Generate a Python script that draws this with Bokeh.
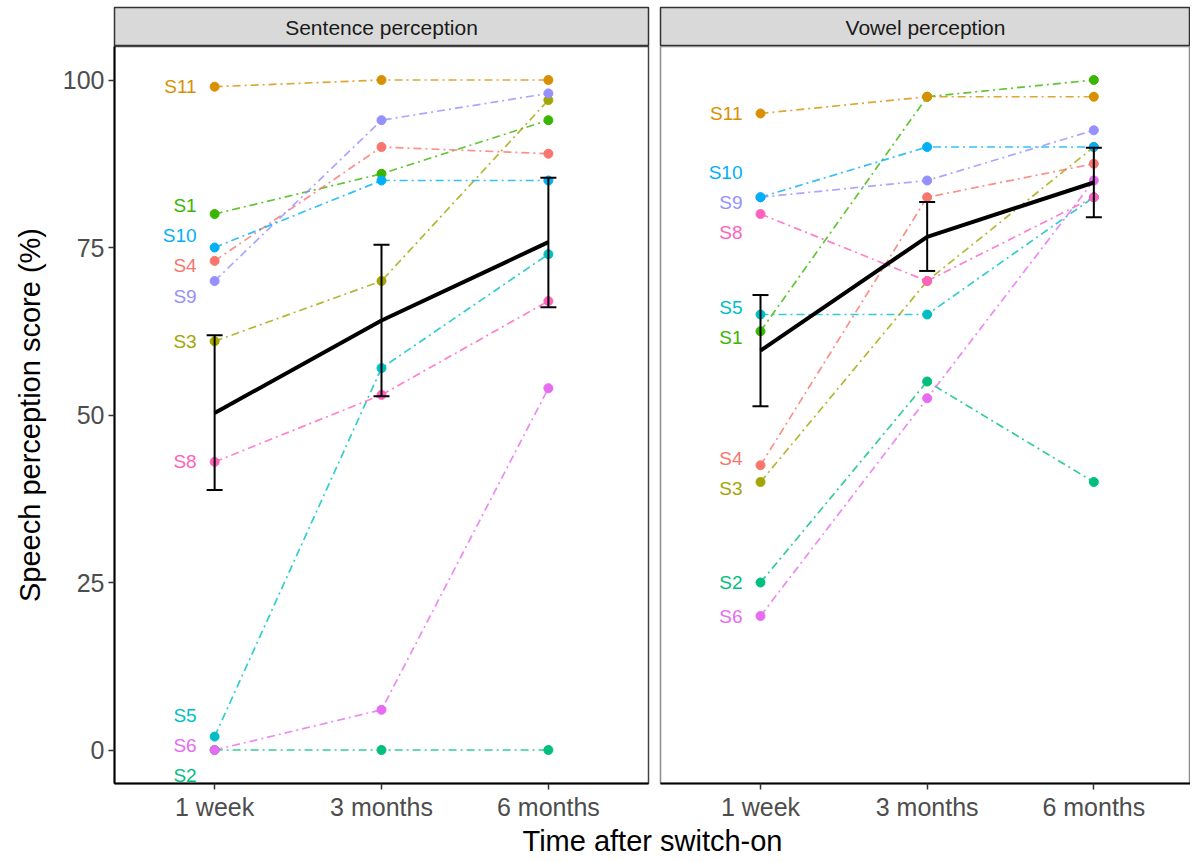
from bokeh.plotting import figure
from bokeh.layouts import column, row
from bokeh.models import Range1d, FixedTicker
from bokeh.core.properties import value
from bokeh.embed import file_html
from bokeh.resources import INLINE

FONT = "Liberation Sans"

# ---------------- data ----------------
subjects = ["S1", "S2", "S3", "S4", "S5", "S6", "S8", "S9", "S10", "S11"]
subject_colors = ["#39B600", "#00BF7D", "#A3A500", "#F8766D", "#00BFC4",
                  "#E76BF3", "#FF62BC", "#9590FF", "#00B0F6", "#D89000"]
time_labels = ["1 week", "3 months", "6 months"]
time_pos = [1, 2, 3]
y_ticks = [0, 25, 50, 75, 100]
panel_titles = ["Sentence perception", "Vowel perception"]

sentence_1week = [80, 0, 61, 73, 2, 0, 43, 70, 75, 99]
sentence_3months = [86, 0, 70, 90, 57, 6, 53, 94, 85, 100]
sentence_6months = [94, 0, 97, 89, 74, 54, 67, 98, 85, 100]
sentence_mean = [50.3, 64.1, 75.8]
sentence_low = [38.8, 52.8, 66.1]
sentence_high = [61.9, 75.4, 85.4]

vowel_1week = [62.5, 25, 40, 42.5, 65, 20, 80, 82.5, 82.5, 95]
vowel_3months = [97.5, 55, 70, 82.5, 65, 52.5, 70, 85, 90, 97.5]
vowel_6months = [100, 40, 90, 87.5, 82.5, 85, 82.5, 92.5, 90, 97.5]
vowel_mean = [59.6, 76.6, 84.7]
vowel_low = [51.3, 71.5, 79.5]
vowel_high = [67.9, 81.8, 89.9]


def repel(vals, gap=4.5, iters=400):
    """simple 1-D label repulsion (like ggrepel) for labels at the first time point"""
    order = sorted(range(len(vals)), key=lambda i: (vals[i], i))
    pos = [float(vals[i]) for i in order]
    for _ in range(iters):
        for k in range(len(pos) - 1):
            d = pos[k + 1] - pos[k]
            if d < gap:
                s = (gap - d) / 2.0
                pos[k] -= s
                pos[k + 1] += s
    out = [0.0] * len(vals)
    for k, i in enumerate(order):
        out[i] = pos[k]
    return out


LEFT_W = 654
RIGHT_W = 536
PANEL_H = 777
STRIP_H = 46
TITLE_H = 34


def make_strip(title, width, mbl, mbr):
    s = figure(width=width, height=STRIP_H, x_range=Range1d(0, 1), y_range=Range1d(0, 1),
               x_axis_location=None, y_axis_location=None, output_backend="svg",
               toolbar_location=None, min_border_left=mbl, min_border_right=mbr,
               min_border_top=7, min_border_bottom=0)
    s.grid.visible = False
    s.background_fill_color = "#D9D9D9"
    s.border_fill_color = "white"
    s.outline_line_color = "#333333"
    s.outline_line_width = 1.5
    s.text(x=[0.5], y=[0.5], text=[title], text_align="center", text_baseline="middle",
           text_font=value(FONT), text_font_size="21px", text_color="#1A1A1A")
    return s


def make_panel(t1, t2, t3, mean, low, high, width, mbl, mbr, x_end, show_y, outline):
    p = figure(width=width, height=PANEL_H, x_range=Range1d(0.4, x_end), y_range=Range1d(-5, 105),
               output_backend="svg", toolbar_location=None,
               y_axis_location="left" if show_y else None,
               min_border_left=mbl, min_border_right=mbr, min_border_top=0, min_border_bottom=40)
    p.grid.visible = False
    p.background_fill_color = "white"
    p.border_fill_color = "white"
    p.outline_line_color = outline
    p.outline_line_width = 1.5

    for i, s in enumerate(subjects):
        ys = [t1[i], t2[i], t3[i]]
        p.line(time_pos, ys, line_color=subject_colors[i], line_width=1.7,
               line_dash="8 4 2 4", line_alpha=0.8)
    for i, s in enumerate(subjects):
        ys = [t1[i], t2[i], t3[i]]
        p.scatter(time_pos, ys, size=9, fill_color=subject_colors[i], line_color=subject_colors[i])

    label_y = repel(t1)
    p.text(x=[time_pos[0]] * len(subjects), y=label_y, text=subjects, text_color=subject_colors,
           x_offset=-18, text_align="right", text_baseline="middle",
           text_font=value(FONT), text_font_size="19px")

    p.line(time_pos, mean, line_color="black", line_width=4)
    p.segment(x0=time_pos, y0=low, x1=time_pos, y1=high, line_color="black", line_width=2)
    p.scatter(time_pos, low, marker="dash", size=16, line_color="black", line_width=2)
    p.scatter(time_pos, high, marker="dash", size=16, line_color="black", line_width=2)

    p.xaxis.ticker = FixedTicker(ticks=time_pos)
    p.xaxis.major_label_overrides = {t: lab for t, lab in zip(time_pos, time_labels)}
    p.xaxis.minor_tick_line_color = None
    p.xaxis.major_tick_in = 0
    p.xaxis.major_tick_out = 6
    p.xaxis.major_tick_line_color = "#333333"
    p.xaxis.major_tick_line_width = 1.5
    p.xaxis.axis_line_color = "black"
    p.xaxis.axis_line_width = 2
    p.xaxis.major_label_text_font = FONT
    p.xaxis.major_label_text_font_size = "25px"
    p.xaxis.major_label_text_color = "#4D4D4D"
    p.xaxis.major_label_standoff = 3

    if show_y:
        p.yaxis.ticker = FixedTicker(ticks=y_ticks)
        p.yaxis.minor_tick_line_color = None
        p.yaxis.major_tick_in = 0
        p.yaxis.major_tick_out = 6
        p.yaxis.major_tick_line_color = "#333333"
        p.yaxis.major_tick_line_width = 1.5
        p.yaxis.axis_line_color = "black"
        p.yaxis.axis_line_width = 2
        p.yaxis.major_label_text_font = FONT
        p.yaxis.major_label_text_font_size = "25px"
        p.yaxis.major_label_text_color = "#4D4D4D"
        p.yaxis.major_label_standoff = 4
        p.yaxis.axis_label = "Speech perception score (%)"
        p.yaxis.axis_label_text_font = FONT
        p.yaxis.axis_label_text_font_size = "29px"
        p.yaxis.axis_label_text_font_style = "normal"
        p.yaxis.axis_label_text_color = "black"
        p.yaxis.axis_label_standoff = 14
    return p


strip_l = make_strip(panel_titles[0], LEFT_W, 114, 6)
strip_r = make_strip(panel_titles[1], RIGHT_W, 6, 0)

panel_l = make_panel(sentence_1week, sentence_3months, sentence_6months,
                     sentence_mean, sentence_low, sentence_high,
                     LEFT_W, 114, 6, 3.6, True, "#444444")
panel_r = make_panel(vowel_1week, vowel_3months, vowel_6months,
                     vowel_mean, vowel_low, vowel_high,
                     RIGHT_W, 6, 0, 3.58, False, "#8C8C8C")

title_fig = figure(width=LEFT_W + RIGHT_W, height=TITLE_H, x_range=Range1d(0, 1), y_range=Range1d(0, 1),
                   x_axis_location=None, y_axis_location=None, output_backend="svg",
                   toolbar_location=None, min_border_left=114, min_border_right=0,
                   min_border_top=0, min_border_bottom=0)
title_fig.grid.visible = False
title_fig.outline_line_color = None
title_fig.text(x=[0.5], y=[0.5], text=["Time after switch-on"], text_align="center",
               text_baseline="middle", text_font=value(FONT), text_font_size="29px",
               text_color="black")

layout = column(row(strip_l, strip_r), row(panel_l, panel_r), title_fig)

open("out.html", "w").write(file_html(layout, INLINE))
